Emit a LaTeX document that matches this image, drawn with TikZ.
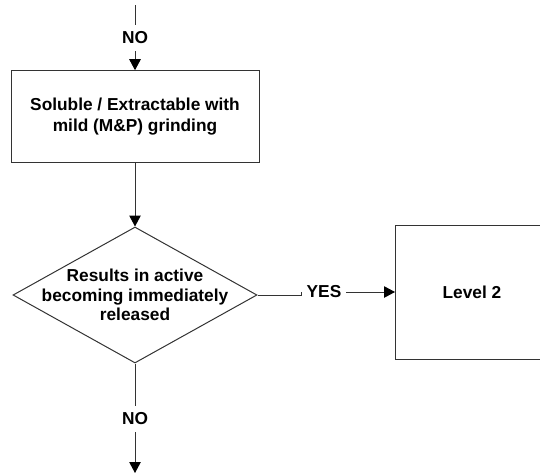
\documentclass[tikz,border=0pt]{standalone}
\usepackage{fontspec}
\setmainfont{Liberation Sans}
\usepackage{tikz}
\usetikzlibrary{arrows.meta,shapes.geometric}
\definecolor{ttgray}{rgb}{0.2,0.2,0.2}

\begin{document}
\begin{tikzpicture}[line cap=butt,line join=miter,>={Triangle[length=11pt,width=11.5pt,color=black]},x=1pt,y=-1pt,line width=1pt,
  txt/.style={font=\fontsize{17.3}{21.7}\selectfont\bfseries,align=center},
  lbl/.style={txt,inner xsep=4.5pt,inner ysep=6.4pt},
  flowbox/.style={draw=ttgray,rectangle,inner sep=0pt,txt}]

\useasboundingbox (0,0) rectangle (540,475);
\clip (0,0) rectangle (540,475);

\coordinate (in) at (135,5);
\node[lbl] (no1) at (135,38) {NO};
\node[flowbox,minimum width=248pt,minimum height=91.6pt] (sol) at (135,116.5) {Soluble / Extractable with\\mild (M\&P) grinding};
\node[draw=ttgray,diamond,minimum width=244pt,minimum height=136pt,inner sep=0pt] (dec) at (135,295) {};
\node[txt,font=\fontsize{17.3}{19.3}\selectfont\bfseries] (dectxt) at (dec.center) {Results in active\\becoming immediately\\released};
\node[lbl] (yes) at (324,292) {YES};
\node[flowbox,minimum width=153pt,minimum height=134pt] (lv2) at (472,292) {Level 2};
\node[lbl] (no2) at (135,419) {NO};
\coordinate (out) at (135,473);

\draw [color=ttgray] (in) -- (no1);
\draw [color=ttgray,->] (no1) -- (sol);
\draw [color=ttgray,->] (sol) -- (dec);
\draw [color=ttgray] (dec.east) -| (yes.west);
\draw [color=ttgray,->] (yes) -- (lv2);
\draw [color=ttgray] (dec) -- (no2);
\draw [color=ttgray,->] (no2) -- (out);

\end{tikzpicture}
\end{document}
